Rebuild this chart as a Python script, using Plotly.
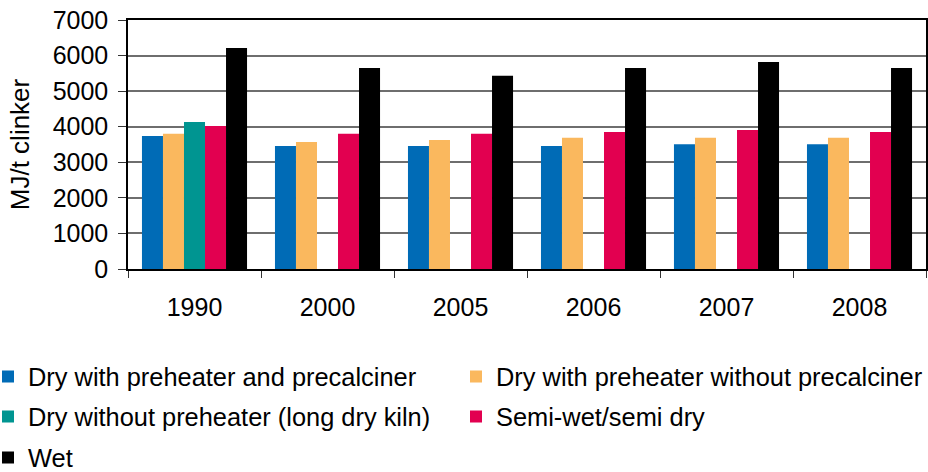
import plotly.graph_objects as go

years = ["1990", "2000", "2005", "2006", "2007", "2008"]

dry_precalciner = [3740, 3460, 3460, 3460, 3510, 3510]
dry_preheater = [3800, 3570, 3630, 3690, 3690, 3690]
dry_long_kiln = [4130, None, None, None, None, None]
semi_wet = [4020, 3800, 3800, 3850, 3910, 3850]
wet = [6210, 5650, 5430, 5650, 5820, 5650]

series = [
    ("Dry with preheater and precalciner", dry_precalciner, "#006BB6"),
    ("Dry with preheater without precalciner", dry_preheater, "#FAB85E"),
    ("Dry without preheater (long dry kiln)", dry_long_kiln, "#009591"),
    ("Semi-wet/semi dry", semi_wet, "#E20050"),
    ("Wet", wet, "#000000"),
]

FONT = "Liberation Sans, Arial, sans-serif"
# plot area in page pixels: x 128..926, y 20..269
PLOT_L, PLOT_B = 128, 269
PLOT_W, PLOT_H = 798, 249

# legend slots (pixel x of the legend box, pixel y of the row centre)
legend_slots = [(-12, 377), (456, 377), (-12, 417), (456, 417), (-12, 458)]

fig = go.Figure()
layout_legends = {}
for i, ((name, values, color), (px, py)) in enumerate(zip(series, legend_slots)):
    key = "legend" if i == 0 else f"legend{i + 1}"
    fig.add_trace(go.Bar(x=years, y=values, name=name, marker_color=color, marker_line_width=0, legend=key))
    layout_legends[key] = {
        "orientation": "h",
        "x": (px - PLOT_L) / PLOT_W,
        "y": (PLOT_B - py) / PLOT_H,
        "xanchor": "left",
        "yanchor": "middle",
        "font": {"family": FONT, "size": 25.4, "color": "#000000"},
        "itemwidth": 30,
        "bgcolor": "rgba(0,0,0,0)",
    }

fig.update_layout(
    width=928,
    height=472,
    margin={"l": 128, "r": 2, "t": 20, "b": 203, "autoexpand": False},
    plot_bgcolor="white",
    paper_bgcolor="white",
    barmode="group",
    bargap=0.21,
    bargroupgap=0,
    font={"family": FONT, "size": 25, "color": "#000000"},
    xaxis={
        "type": "category",
        "automargin": False,
        "tickson": "boundaries",
        "ticks": "outside",
        "ticklen": 7,
        "tickcolor": "#333333",
        "ticklabelstandoff": 15,
        "showline": True,
        "linecolor": "#000000",
        "linewidth": 1.5,
        "mirror": True,
        "showgrid": False,
        "tickfont": {"size": 25},
    },
    yaxis={
        "automargin": False,
        "range": [0, 7000],
        "dtick": 1000,
        "ticks": "outside",
        "ticklen": 8,
        "tickcolor": "#333333",
        "ticklabelstandoff": 5,
        "ticklabeloverflow": "allow",
        "showline": True,
        "linecolor": "#000000",
        "linewidth": 1.5,
        "mirror": True,
        "gridcolor": "#6E6E6E",
        "gridwidth": 1.5,
        "zeroline": False,
        "tickfont": {"size": 25},
        "title": {"text": "MJ/t clinker", "font": {"size": 26}, "standoff": 16},
    },
    showlegend=True,
    **layout_legends,
)

# drop the default 8px page margin so the figure fills the window exactly
fig.write_html(
    "out.html",
    config={"displayModeBar": False},
    post_script="document.body.style.margin = '0';",
)
